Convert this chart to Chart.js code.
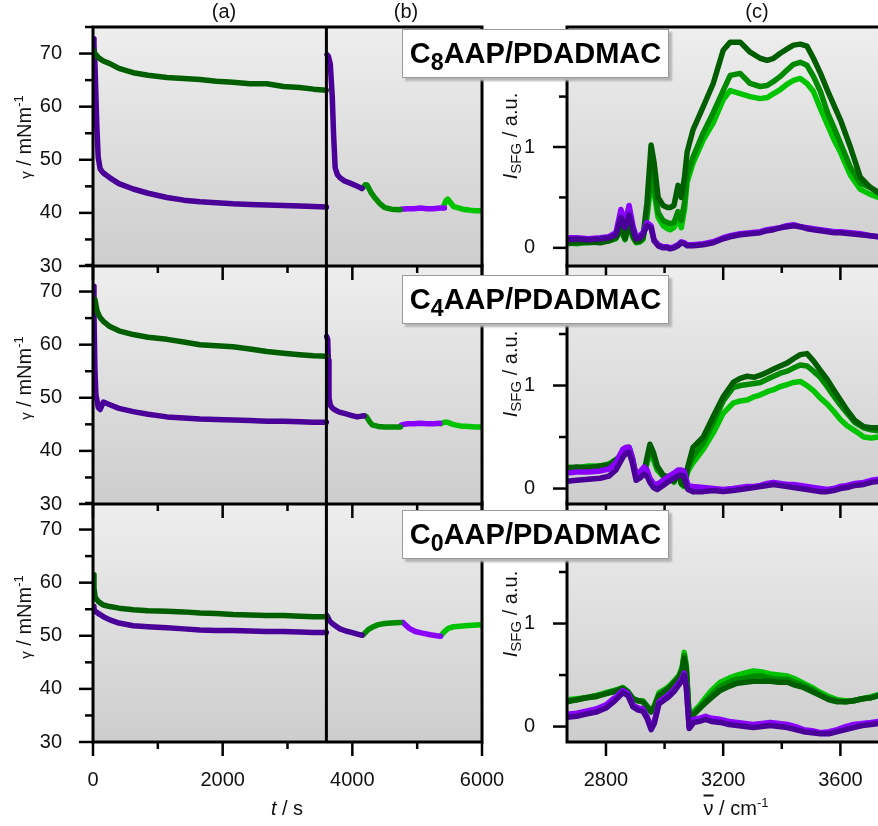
<!DOCTYPE html>
<html>
<head>
<meta charset="utf-8">
<script src="https://cdn.jsdelivr.net/npm/chart.js@4.4.0/dist/chart.umd.min.js"></script>
<style>
  body { margin: 0; width: 878px; height: 826px; overflow: hidden; background: #fff; position: relative;
         font-family: Arial, "Liberation Sans", sans-serif; color: #111; }
  canvas { position: absolute; }
  .txt { position: absolute; white-space: nowrap; z-index: 10; font-size: 20px; }
  .rot { transform: translate(-50%, -50%) rotate(-90deg); }
  .ctr { transform: translate(-50%, -50%); }
  .box { position: absolute; left: 402px; width: 265px; height: 47px; background: #fff; border: 1px solid #9a9a9a;
         box-shadow: 3px 3px 2px #b5b5b5; z-index: 10; font-weight: bold; font-size: 29px; text-align: center;
         line-height: 47px; color: #000; }
  .box sub { font-size: 0.8em; vertical-align: -0.3em; line-height: 0; }
  sup { font-size: 0.65em; vertical-align: 0.6em; line-height: 0; }
  .sfg { font-size: 0.75em; vertical-align: -0.3em; line-height: 0; }
</style>
</head>
<body>
<canvas id="L1"></canvas><canvas id="L2"></canvas><canvas id="L3"></canvas>
<canvas id="R1"></canvas><canvas id="R2"></canvas><canvas id="R3"></canvas>

<div class="txt ctr" style="left:224px;top:11px;">(a)</div>
<div class="txt ctr" style="left:406px;top:11px;">(b)</div>
<div class="txt ctr" style="left:757px;top:11px;">(c)</div>

<div class="txt rot" style="left:24px;top:137px;"><span style="font-size:15px">γ</span> / mNm<sup>-1</sup></div>
<div class="txt rot" style="left:24px;top:378px;"><span style="font-size:15px">γ</span> / mNm<sup>-1</sup></div>
<div class="txt rot" style="left:24px;top:617px;"><span style="font-size:15px">γ</span> / mNm<sup>-1</sup></div>

<div class="txt rot" style="left:510px;top:136px;"><i>I</i><span class="sfg">SFG</span> / a.u.</div>
<div class="txt rot" style="left:510px;top:374px;"><i>I</i><span class="sfg">SFG</span> / a.u.</div>
<div class="txt rot" style="left:510px;top:614px;"><i>I</i><span class="sfg">SFG</span> / a.u.</div>

<div class="txt ctr" style="left:287px;top:808px;"><i>t</i> / s</div>
<div class="txt ctr" style="left:736px;top:808px;"><span style="text-decoration:overline">ν</span> / cm<sup>-1</sup></div>

<div class="box" style="top:29px;">C<sub>8</sub>AAP/PDADMAC</div>
<div class="box" style="top:275px;">C<sub>4</sub>AAP/PDADMAC</div>
<div class="box" style="top:510px;">C<sub>0</sub>AAP/PDADMAC</div>

<script>
// ---- (a) tension en fonction du temps, 0 - 3600 s
const tA = [0, 15, 30, 45, 60, 80, 110, 160, 260, 400, 620, 850, 1140, 1400, 1650, 1900, 2160, 2420, 2680, 2940, 3190, 3400, 3600];
const gA1 = [70.5, 70.2, 70.0, 69.8, 69.6, 69.3, 69.0, 68.6, 68.1, 67.2, 66.4, 65.9, 65.5, 65.3, 65.1, 64.8, 64.6, 64.3, 64.3, 63.8, 63.6, 63.3, 63.1];
const pA1 = [72.8, 71.5, 68.0, 62.0, 56.0, 50.5, 48.3, 47.5, 46.6, 45.5, 44.5, 43.7, 42.9, 42.4, 42.1, 41.9, 41.7, 41.6, 41.5, 41.4, 41.3, 41.2, 41.1];
const gA2 = [null, null, 68.5, 67.5, 66.5, 65.8, 65.1, 64.4, 63.4, 62.6, 61.9, 61.4, 61.0, 60.5, 60.0, 59.8, 59.6, 59.2, 58.7, 58.4, 58.1, 57.9, 57.8];
const pA2 = [71.0, 66.0, 55.0, 50.5, 49.6, 48.2, 47.8, 49.2, 48.7, 48.0, 47.4, 46.9, 46.4, 46.2, 46.0, 45.9, 45.8, 45.7, 45.6, 45.6, 45.5, 45.4, 45.4];
const gA3 = [61.5, 59.0, 57.5, 57.0, 56.8, 56.5, 56.2, 55.8, 55.5, 55.2, 54.9, 54.7, 54.6, 54.5, 54.3, 54.2, 54.0, 53.9, 53.8, 53.8, 53.7, 53.6, 53.6];
const pA3 = [55.5, 55.0, 54.7, 54.5, 54.4, 54.2, 54.0, 53.6, 53.0, 52.4, 51.9, 51.7, 51.5, 51.3, 51.1, 51.0, 51.0, 50.9, 50.8, 50.8, 50.7, 50.6, 50.6];

// ---- (b) segments 3600 - 6000 s
const tB1p = [3610, 3630, 3660, 3690, 3710, 3735, 3770, 3810, 3880, 3965, 4060, 4150];
const vB1p = [69.8, 69.5, 68.0, 62.0, 55.0, 48.5, 47.2, 46.6, 46.0, 45.6, 45.1, 44.6];
const tB1g = [4150, 4200, 4230, 4290, 4350, 4420, 4500, 4600, 4740];
const vB1g = [44.6, 45.3, 45.2, 43.8, 42.8, 41.8, 41.0, 40.7, 40.6];
const tB1bp = [4750, 4850, 4950, 5050, 5150, 5250, 5350, 5420];
const vB1bp = [40.7, 40.8, 40.8, 40.9, 40.8, 40.8, 40.9, 40.9];
const tB1bg = [5400, 5440, 5470, 5510, 5560, 5620, 5700, 5820, 5900, 6000];
const vB1bg = [41.0, 42.2, 42.6, 42.0, 41.2, 41.0, 40.7, 40.5, 40.4, 40.4];

const tB2p = [3605, 3620, 3630, 3640, 3660, 3700, 3735, 3800, 3890, 3980, 4075, 4180];
const vB2p = [61.5, 61.0, 57.0, 50.0, 48.6, 48.0, 47.7, 47.3, 47.0, 46.7, 46.4, 46.6];
const tB2g = [4180, 4215, 4260, 4305, 4400, 4500, 4600, 4740];
const vB2g = [46.6, 46.5, 45.6, 44.9, 44.6, 44.5, 44.5, 44.5];
const tB2bp = [4760, 4850, 4950, 5050, 5150, 5250, 5350];
const vB2bp = [44.9, 45.1, 45.1, 45.2, 45.1, 45.1, 45.2];
const tB2bg = [5360, 5420, 5460, 5550, 5660, 5800, 5900, 6000];
const vB2bg = [45.1, 45.4, 45.4, 45.0, 44.7, 44.6, 44.5, 44.5];

const tB3p = [3610, 3650, 3700, 3760, 3810, 3900, 4000, 4080, 4150];
const vB3p = [53.8, 52.8, 52.2, 51.7, 51.3, 50.9, 50.6, 50.3, 50.1];
const tB3g = [4170, 4200, 4250, 4305, 4400, 4500, 4600, 4740];
const vB3g = [50.2, 50.6, 51.2, 51.6, 52.1, 52.3, 52.4, 52.5];
const tB3bp = [4780, 4815, 4880, 4970, 5080, 5200, 5300, 5360];
const vB3bp = [52.5, 52.1, 51.4, 50.8, 50.5, 50.2, 50.0, 49.9];
const tB3bg = [5380, 5420, 5480, 5560, 5660, 5740, 5850, 6000];
const vB3bg = [50.2, 50.8, 51.4, 51.7, 51.8, 51.9, 52.0, 52.1];

// ---- (c) spectres SFG
const nu1 = [2667, 2700, 2740, 2780, 2810, 2834, 2851, 2865, 2879, 2892, 2903, 2915, 2926, 2940, 2954, 2964, 2978, 2995, 3010, 3019,
             3032, 3046, 3057, 3068, 3077, 3097, 3132, 3166, 3200, 3224, 3258, 3292, 3326, 3350, 3372, 3395, 3417, 3440, 3463, 3486,
             3508, 3532, 3556, 3580, 3600, 3634, 3668, 3702, 3730, 3760];
const dg1 = [0.05, 0.05, 0.06, 0.05, 0.07, 0.1, 0.2, 0.09, 0.25, 0.12, 0.06, 0.07, 0.1, 0.45, 1.02, 0.85, 0.5, 0.42, 0.4, 0.4,
             0.42, 0.62, 0.5, 0.7, 0.95, 1.17, 1.4, 1.63, 1.96, 2.04, 2.04, 1.94, 1.88, 1.86, 1.88, 1.93, 1.97, 2.01, 2.02, 2.0,
             1.88, 1.73, 1.56, 1.4, 1.27, 1.0, 0.7, 0.6, 0.55, 0.52];
const mg1 = [0.04, 0.05, 0.05, 0.06, 0.07, 0.1, 0.19, 0.09, 0.24, 0.12, 0.06, 0.06, 0.09, 0.35, 0.75, 0.62, 0.35, 0.27, 0.25, 0.24,
             0.25, 0.36, 0.27, 0.45, 0.72, 0.9, 1.14, 1.34, 1.56, 1.71, 1.73, 1.63, 1.6, 1.61, 1.65, 1.7, 1.76, 1.82, 1.84, 1.81,
             1.7, 1.55, 1.34, 1.18, 1.04, 0.8, 0.64, 0.6, 0.54, 0.52];
const lg1 = [0.05, 0.04, 0.06, 0.06, 0.07, 0.09, 0.18, 0.08, 0.22, 0.1, 0.05, 0.06, 0.08, 0.3, 0.67, 0.55, 0.3, 0.22, 0.19, 0.18,
             0.2, 0.3, 0.2, 0.38, 0.65, 0.84, 1.07, 1.24, 1.47, 1.56, 1.53, 1.5, 1.48, 1.49, 1.53, 1.57, 1.62, 1.66, 1.68, 1.63,
             1.55, 1.38, 1.22, 1.06, 0.95, 0.72, 0.58, 0.53, 0.5, 0.48];
const bp1 = [0.1, 0.1, 0.09, 0.1, 0.11, 0.15, 0.38, 0.25, 0.42, 0.22, 0.11, 0.12, 0.15, 0.25, 0.22, 0.08, 0.03, 0.01, 0.01, 0.0,
             0.01, 0.03, 0.06, 0.05, 0.03, 0.03, 0.04, 0.06, 0.1, 0.12, 0.14, 0.15, 0.16, 0.18, 0.19, 0.2, 0.22, 0.23, 0.21, 0.2,
             0.19, 0.18, 0.17, 0.16, 0.16, 0.15, 0.14, 0.12, 0.11, 0.11];
const dp1 = [0.08, 0.09, 0.08, 0.09, 0.1, 0.13, 0.3, 0.2, 0.33, 0.18, 0.09, 0.1, 0.13, 0.22, 0.2, 0.07, 0.02, 0.0, 0.0, -0.01,
             0.0, 0.02, 0.05, 0.04, 0.02, 0.02, 0.03, 0.05, 0.09, 0.11, 0.13, 0.14, 0.15, 0.17, 0.18, 0.2, 0.21, 0.22, 0.21, 0.19,
             0.18, 0.17, 0.16, 0.15, 0.15, 0.14, 0.13, 0.12, 0.11, 0.1];

const nu2 = [2667, 2700, 2740, 2780, 2810, 2834, 2857, 2868, 2879, 2890, 2903, 2915, 2930, 2940, 2950, 2962, 2975, 2995, 3015, 3032,
             3046, 3057, 3066, 3080, 3097, 3132, 3166, 3200, 3234, 3258, 3282, 3305, 3327, 3350, 3372, 3395, 3419, 3440, 3463, 3486,
             3508, 3531, 3555, 3577, 3600, 3623, 3650, 3680, 3705, 3730, 3760];
const dg2 = [0.2, 0.21, 0.2, 0.22, 0.23, 0.28, 0.33, 0.36, 0.4, 0.3, 0.12, 0.13, 0.16, 0.3, 0.43, 0.35, 0.22, 0.13, 0.11, 0.07,
             0.17, 0.05, 0.03, 0.22, 0.4, 0.5, 0.7, 0.89, 1.03, 1.07, 1.09, 1.08, 1.1, 1.13, 1.16, 1.19, 1.22, 1.26, 1.3, 1.31,
             1.24, 1.15, 1.06, 0.96, 0.86, 0.76, 0.66, 0.6, 0.59, 0.59, 0.58];
const mg2 = [0.19, 0.2, 0.21, 0.21, 0.23, 0.27, 0.33, 0.35, 0.39, 0.28, 0.12, 0.13, 0.15, 0.27, 0.38, 0.32, 0.2, 0.12, 0.11, 0.07,
             0.16, 0.05, 0.03, 0.2, 0.31, 0.44, 0.64, 0.85, 0.98, 1.0, 1.01, 1.02, 1.03, 1.06, 1.09, 1.12, 1.14, 1.17, 1.2, 1.19,
             1.14, 1.08, 0.99, 0.9, 0.81, 0.73, 0.64, 0.59, 0.57, 0.56, 0.55];
const lg2 = [0.21, 0.2, 0.22, 0.22, 0.24, 0.28, 0.32, 0.35, 0.38, 0.27, 0.12, 0.12, 0.14, 0.24, 0.35, 0.28, 0.18, 0.12, 0.11, 0.06,
             0.16, 0.04, 0.02, 0.17, 0.25, 0.38, 0.54, 0.73, 0.83, 0.85, 0.86, 0.89, 0.91, 0.94, 0.96, 0.99, 1.01, 1.03, 1.04, 1.0,
             0.95, 0.88, 0.82, 0.75, 0.67, 0.61, 0.56, 0.5, 0.49, 0.5, 0.5];
const bp2 = [0.15, 0.16, 0.16, 0.17, 0.19, 0.25, 0.38, 0.4, 0.4, 0.3, 0.12, 0.16, 0.21, 0.18, 0.1, 0.05, 0.04, 0.08, 0.12, 0.15,
             0.18, 0.18, 0.17, 0.03, 0.02, 0.01, 0.0, -0.01, 0.0, 0.01, 0.02, 0.02, 0.03, 0.05, 0.06, 0.05, 0.04, 0.04, 0.03, 0.02,
             0.01, 0.0, -0.01, 0.0, 0.02, 0.03, 0.05, 0.06, 0.08, 0.09, 0.1];
const dp2 = [0.07, 0.08, 0.09, 0.1, 0.12, 0.18, 0.3, 0.34, 0.35, 0.25, 0.08, 0.1, 0.14, 0.12, 0.06, 0.01, -0.01, 0.03, 0.07, 0.1,
             0.12, 0.13, 0.12, -0.01, -0.03, -0.03, -0.02, -0.03, -0.02, -0.01, 0.0, 0.01, 0.02, 0.03, 0.04, 0.03, 0.02, 0.01, 0.0, -0.01,
             -0.02, -0.03, -0.03, -0.02, 0.0, 0.01, 0.03, 0.04, 0.06, 0.07, 0.08];

const nu3 = [2667, 2700, 2732, 2766, 2800, 2830, 2858, 2875, 2892, 2910, 2926, 2940, 2954, 2965, 2981, 3000, 3015, 3032, 3050, 3060,
             3067, 3074, 3084, 3100, 3118, 3140, 3160, 3190, 3220, 3248, 3275, 3303, 3332, 3361, 3390, 3419, 3447, 3474, 3503, 3532,
             3561, 3590, 3618, 3645, 3675, 3705, 3730, 3760];
const dg3 = [0.24, 0.26, 0.28, 0.29, 0.32, 0.34, 0.37, 0.33, 0.27, 0.25, 0.24, 0.19, 0.14, 0.19, 0.3, 0.34, 0.37, 0.42, 0.48, 0.55,
             0.66, 0.55, 0.08, 0.12, 0.17, 0.23, 0.28, 0.35, 0.39, 0.42, 0.43, 0.44, 0.44, 0.44, 0.43, 0.43, 0.4, 0.38, 0.34, 0.3,
             0.26, 0.24, 0.24, 0.25, 0.27, 0.28, 0.3, 0.31];
const mg3 = [0.25, 0.26, 0.28, 0.3, 0.32, 0.35, 0.37, 0.34, 0.27, 0.25, 0.24, 0.2, 0.15, 0.2, 0.31, 0.35, 0.38, 0.43, 0.49, 0.56,
             0.69, 0.57, 0.09, 0.13, 0.18, 0.25, 0.31, 0.39, 0.43, 0.46, 0.47, 0.49, 0.49, 0.47, 0.46, 0.46, 0.43, 0.4, 0.36, 0.31,
             0.27, 0.25, 0.24, 0.25, 0.27, 0.28, 0.3, 0.31];
const lg3 = [0.26, 0.27, 0.28, 0.3, 0.33, 0.35, 0.38, 0.34, 0.27, 0.25, 0.25, 0.2, 0.15, 0.2, 0.33, 0.36, 0.39, 0.44, 0.5, 0.58,
             0.72, 0.6, 0.1, 0.15, 0.2, 0.28, 0.35, 0.43, 0.47, 0.5, 0.52, 0.54, 0.53, 0.51, 0.5, 0.49, 0.46, 0.42, 0.38, 0.33,
             0.29, 0.26, 0.25, 0.25, 0.27, 0.29, 0.31, 0.32];
const bp3 = [0.12, 0.13, 0.15, 0.17, 0.21, 0.28, 0.35, 0.32, 0.21, 0.18, 0.17, 0.1, -0.01, 0.05, 0.24, 0.28, 0.31, 0.36, 0.43, 0.47,
             0.52, 0.4, 0.0, 0.07, 0.08, 0.1, 0.08, 0.07, 0.05, 0.04, 0.03, 0.02, 0.03, 0.04, 0.03, 0.02, 0.0, -0.03, -0.04, -0.06,
             -0.05, -0.03, 0.0, 0.02, 0.03, 0.04, 0.05, 0.06];
const dp3 = [0.09, 0.1, 0.12, 0.14, 0.18, 0.25, 0.33, 0.3, 0.19, 0.16, 0.15, 0.08, -0.03, 0.03, 0.22, 0.26, 0.29, 0.34, 0.41, 0.45,
             0.5, 0.38, -0.02, 0.04, 0.05, 0.07, 0.05, 0.04, 0.02, 0.01, 0.0, -0.01, 0.0, 0.01, 0.0, -0.01, -0.03, -0.05, -0.06, -0.07,
             -0.07, -0.05, -0.03, -0.01, 0.01, 0.02, 0.03, 0.04];

// couleurs
const DG = '#005e00', MG = '#008a00', LG = '#00c400', DP = '#4a0098', BP = '#8a00ff';
const FONT = 'Arial, "Liberation Sans", sans-serif';

function isMajor(v, step) {
  const r = v / step;
  return Math.abs(r - Math.round(r)) < 1e-6;
}

function serie(xs, ys, color) {
  return {
    data: xs.map((x, i) => ({ x: x, y: ys[i] })),
    borderColor: color,
    borderWidth: 5.5,
    pointRadius: 0,
    borderJoinStyle: 'round',
    borderCapStyle: 'round',
    spanGaps: false
  };
}

// fond dégradé, cadre, ligne verticale et graduations
const panelPlugin = {
  id: 'panel',
  beforeDatasetsDraw(chart) {
    const { ctx, chartArea: a } = chart;
    const g = ctx.createLinearGradient(0, a.top, 0, a.bottom);
    g.addColorStop(0, '#eeeeee');
    g.addColorStop(1, '#cdcdcd');
    ctx.save();
    ctx.fillStyle = g;
    ctx.fillRect(a.left, a.top, a.right - a.left, a.bottom - a.top);
    ctx.restore();
  },
  afterDatasetsDraw(chart, args, opts) {
    const { ctx, chartArea: a, scales } = chart;
    const seg = (x1, y1, x2, y2) => { ctx.beginPath(); ctx.moveTo(x1, y1); ctx.lineTo(x2, y2); ctx.stroke(); };
    ctx.save();
    ctx.strokeStyle = '#000';
    ctx.lineWidth = 3;
    if (opts.vline !== undefined) {
      const px = scales.x.getPixelForValue(opts.vline);
      seg(px, a.top, px, a.bottom);
    }
    ctx.strokeRect(a.left, a.top, a.right - a.left, a.bottom - a.top);
    ctx.lineWidth = 2.5;
    ctx.lineCap = 'butt';
    scales.x.ticks.forEach(t => {
      const px = scales.x.getPixelForValue(t.value);
      const len = isMajor(t.value, opts.xMajor) ? 14 : 7;
      seg(px, a.bottom, px, a.bottom + len);
    });
    scales.y.ticks.forEach(t => {
      const py = scales.y.getPixelForValue(t.value);
      const len = isMajor(t.value, opts.yMajor) ? 14 : 8;
      seg(a.left - len, py, a.left, py);
    });
    ctx.restore();
  }
};

function zeroPad(s) {
  s.paddingTop = 0; s.paddingBottom = 0; s.paddingLeft = 0; s.paddingRight = 0;
}

function makePanel(id, p, datasets) {
  const cv = document.getElementById(id);
  cv.width = p.width;
  cv.height = 10 + p.plotH + p.xh;
  cv.style.left = p.left + 'px';
  cv.style.top = (p.top - 10) + 'px';
  cv.style.zIndex = p.z;
  return new Chart(cv, {
    type: 'line',
    data: { datasets: datasets },
    options: {
      responsive: false,
      animation: false,
      devicePixelRatio: 1,
      events: [],
      layout: { padding: { top: 10, right: p.padRight, left: 0, bottom: 0 } },
      plugins: {
        legend: { display: false },
        tooltip: { enabled: false },
        panel: { vline: p.vline, xMajor: p.xMajor, yMajor: p.yMajor }
      },
      scales: {
        x: {
          type: 'linear', min: p.xMin, max: p.xMax,
          grid: { display: false, drawTicks: false },
          border: { display: false },
          ticks: {
            stepSize: p.xStep, includeBounds: false, autoSkip: false, maxRotation: 0, minRotation: 0,
            padding: 26, color: '#111', font: { family: FONT, size: 20 },
            callback: v => (p.xLabels && isMajor(v, p.xMajor)) ? String(v) : ''
          },
          afterFit: s => { s.height = p.xh; zeroPad(s); }
        },
        y: {
          type: 'linear', min: p.yMin, max: p.yMax,
          grid: { display: false, drawTicks: false },
          border: { display: false },
          ticks: {
            stepSize: p.yStep, includeBounds: false, autoSkip: false,
            padding: p.yPad, color: '#111', font: { family: FONT, size: 20 },
            // le "2" de (c) est caché sous l'étiquette
            callback: v => (isMajor(v, p.yMajor) && v <= p.yLabelMax) ? String(Math.round(v)) : ''
          },
          afterFit: s => { s.width = p.yw; zeroPad(s); }
        }
      }
    },
    plugins: [panelPlugin]
  });
}

const rowTop = [27, 265, 503];
const plotH = 239;
const yRight = [[-0.18, 2.19], [-0.15, 2.17], [-0.15, 2.17]];

function leftSpec(i) {
  return {
    left: 0, top: rowTop[i], width: 520, padRight: 38, yw: 93, plotH: plotH,
    xh: i === 2 ? 70 : 16, z: 3 - i, xLabels: i === 2,
    xMin: 0, xMax: 6000, xStep: 1000, xMajor: 2000,
    yMin: 30, yMax: 75, yStep: 5, yMajor: 10, yPad: 31, yLabelMax: 70, vline: 3600
  };
}
function rightSpec(i) {
  return {
    left: 467, top: rowTop[i], width: 442, padRight: 10, yw: 100, plotH: plotH,
    xh: i === 2 ? 70 : 16, z: 3 - i, xLabels: i === 2,
    xMin: 2667, xMax: 3800, xStep: 200, xMajor: 400,
    yMin: yRight[i][0], yMax: yRight[i][1], yStep: 0.5, yMajor: 1, yPad: 32, yLabelMax: 1
  };
}

makePanel('L1', leftSpec(0), [
  serie(tA, gA1, DG), serie(tA, pA1, DP),
  serie(tB1p, vB1p, DP), serie(tB1g, vB1g, MG), serie(tB1bp, vB1bp, BP), serie(tB1bg, vB1bg, LG)
]);
makePanel('L2', leftSpec(1), [
  serie(tA, gA2, DG), serie(tA, pA2, DP),
  serie(tB2p, vB2p, DP), serie(tB2g, vB2g, MG), serie(tB2bp, vB2bp, BP), serie(tB2bg, vB2bg, LG)
]);
makePanel('L3', leftSpec(2), [
  serie(tA, gA3, DG), serie(tA, pA3, DP),
  serie(tB3p, vB3p, DP), serie(tB3g, vB3g, MG), serie(tB3bp, vB3bp, BP), serie(tB3bg, vB3bg, LG)
]);

makePanel('R1', rightSpec(0), [
  serie(nu1, dp1, DP), serie(nu1, bp1, BP), serie(nu1, dg1, DG), serie(nu1, mg1, MG), serie(nu1, lg1, LG)
]);
makePanel('R2', rightSpec(1), [
  serie(nu2, dp2, DP), serie(nu2, bp2, BP), serie(nu2, dg2, DG), serie(nu2, mg2, MG), serie(nu2, lg2, LG)
]);
makePanel('R3', rightSpec(2), [
  serie(nu3, dp3, DP), serie(nu3, bp3, BP), serie(nu3, dg3, DG), serie(nu3, mg3, MG), serie(nu3, lg3, LG)
]);
</script>
</body>
</html>
